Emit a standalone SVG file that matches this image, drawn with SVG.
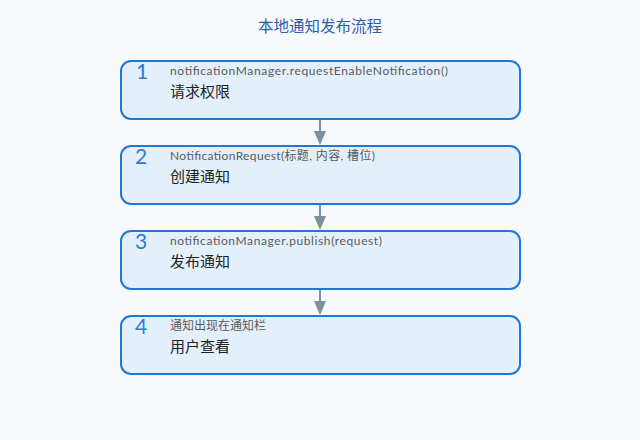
<svg xmlns="http://www.w3.org/2000/svg" width="640" height="440" viewBox="0 0 640 440">
<defs>
<style>
.box{fill:#e3f0fc;stroke:#1f78d6;stroke-width:2}
.num{font-family:"Lato","Noto Sans",sans-serif;font-weight:400;font-size:21px;fill:#2b7bd6}
.code{font-family:"Lato","Noto Sans","Noto Sans CJK SC",sans-serif;font-size:12px;fill:#5a5a5a}
.lbl{font-family:"Noto Sans CJK SC",sans-serif;font-size:15px;fill:#222}
.title{font-family:"Noto Sans CJK SC",sans-serif;font-size:15.5px;fill:#2d5fa8}
.conn{stroke:#7a8fa0;stroke-width:2;fill:none}
.head{fill:#7a8fa0}
</style>
</defs>
<rect width="640" height="440" fill="#f7f9fc"/>
<text class="title" x="320" y="32" text-anchor="middle">本地通知发布流程</text>
<g id="connectors">
<line class="conn" x1="320" y1="120" x2="320" y2="132"/>
<path class="head" d="M314,131 L326,131 L320,145 Z"/>
<line class="conn" x1="320" y1="205" x2="320" y2="217"/>
<path class="head" d="M314,216 L326,216 L320,230 Z"/>
<line class="conn" x1="320" y1="290" x2="320" y2="302"/>
<path class="head" d="M314,301 L326,301 L320,315 Z"/>
</g>
<g id="step1">
<rect class="box" x="121" y="61" width="399" height="58" rx="10"/>
<text class="num" x="136" y="79">1</text>
<text class="code" x="170" y="75" textLength="278" lengthAdjust="spacing">notificationManager.requestEnableNotification()</text>
<text class="lbl" x="170" y="97">请求权限</text>
</g>
<g id="step2">
<rect class="box" x="121" y="146" width="399" height="58" rx="10"/>
<text class="num" x="135" y="164">2</text>
<text class="code" x="170" y="160" textLength="205" lengthAdjust="spacing">NotificationRequest(标题, 内容, 槽位)</text>
<text class="lbl" x="170" y="182">创建通知</text>
</g>
<g id="step3">
<rect class="box" x="121" y="231" width="399" height="58" rx="10"/>
<text class="num" x="135" y="249">3</text>
<text class="code" x="170" y="245" textLength="212" lengthAdjust="spacing">notificationManager.publish(request)</text>
<text class="lbl" x="170" y="267">发布通知</text>
</g>
<g id="step4">
<rect class="box" x="121" y="316" width="399" height="58" rx="10"/>
<text class="num" x="135" y="334">4</text>
<text class="code" x="170" y="330">通知出现在通知栏</text>
<text class="lbl" x="170" y="352">用户查看</text>
</g>
</svg>
